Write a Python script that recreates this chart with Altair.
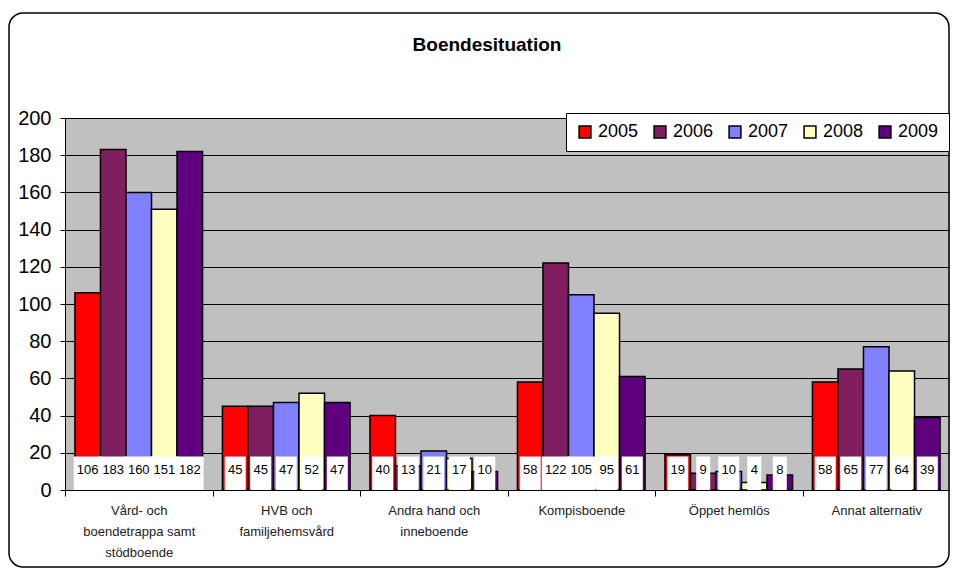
import altair as alt
import pandas as pd

categories = ["Vård- och|boendetrappa samt|stödboende", "HVB och|familjehemsvård",
              "Andra hand och|inneboende", "Kompisboende", "Öppet hemlös", "Annat alternativ"]
years = ["2005", "2006", "2007", "2008", "2009"]
v2005 = [106, 45, 40, 58, 19, 58]
v2006 = [183, 45, 13, 122, 9, 65]
v2007 = [160, 47, 21, 105, 10, 77]
v2008 = [151, 52, 17, 95, 4, 64]
v2009 = [182, 47, 10, 61, 8, 39]
colors = ["#FF0000", "#7F1F5F", "#8080FF", "#FFFFC0", "#5F007F"]
title_text = "Boendesituation"
y_ticks = [0, 20, 40, 60, 80, 100, 120, 140, 160, 180, 200]

series = [v2005, v2006, v2007, v2008, v2009]
rows = []
for yr, vals in zip(years, series):
    for c, v in zip(categories, vals):
        rows.append({"cat": c, "year": yr, "value": v, "boxw": 7 * len(str(v)) + 7})
df = pd.DataFrame(rows)

W, H = 885, 372

x = alt.X("cat:N", sort=categories,
          scale=alt.Scale(paddingInner=0, paddingOuter=0),
          axis=alt.Axis(title=None, labelExpr="split(datum.label, '|')", labelAngle=0,
                        tickBand="extent", tickSize=6, labelPadding=8, labelFontSize=13,
                        labelLineHeight=21, labelColor="#222222", domainColor="black",
                        tickColor="black", labelFont="Liberation Sans", grid=False,
                        labelLimit=0, labelOverlap=False, labelBound=False))
xo = alt.XOffset("year:N", sort=years, scale=alt.Scale(paddingInner=0, paddingOuter=0.39))

yaxis = alt.Axis(title=None, values=y_ticks, tickCount=len(y_ticks) + 1, labelFontSize=20,
                 tickSize=5, labelPadding=9, gridColor="black", grid=True,
                 domainColor="black", tickColor="black", labelColor="black",
                 labelFont="Liberation Sans", labelOverlap=False)

base = alt.Chart(df)

bars = base.mark_bar(stroke="black", strokeWidth=1.5).encode(
    x=x, xOffset=xo,
    y=alt.Y("value:Q", scale=alt.Scale(domain=[0, 200]), axis=yaxis),
    color=alt.Color("year:N", scale=alt.Scale(domain=years, range=colors),
                    legend=alt.Legend(title=None, orient="none", legendX=501, legendY=-5,
                                      direction="horizontal", columns=5, symbolType="square",
                                      symbolSize=140, symbolStrokeColor="black",
                                      symbolStrokeWidth=1.5, labelFontSize=18,
                                      labelFont="Liberation Sans", labelColor="black",
                                      columnPadding=12, labelOffset=4, padding=10,
                                      fillColor="white", strokeColor="black")),
)

boxes = base.mark_rule(color="white", strokeCap="butt").encode(
    x=x, xOffset=xo,
    y=alt.Y(datum=0, axis=yaxis), y2=alt.datum(18),
    strokeWidth=alt.StrokeWidth("boxw:Q", scale=None, legend=None),
)

labels = base.mark_text(fontSize=13, font="Liberation Sans", color="black",
                        baseline="middle").encode(
    x=x, xOffset=xo, y=alt.Y(datum=10.5, axis=yaxis), text="value:Q",
)

tdf = pd.DataFrame({"t": [title_text]})
title = alt.Chart(tdf).mark_text(fontSize=19, fontWeight="bold", font="Liberation Sans",
                                 color="black", baseline="middle").encode(
    x=alt.value(422), y=alt.value(-73), text="t:N")

frame = alt.Chart(tdf).mark_rect(cornerRadius=14, fillOpacity=0, stroke="black",
                                 strokeWidth=1.5).encode(
    x=alt.value(-56), x2=alt.value(884), y=alt.value(-105), y2=alt.value(449))

chart = alt.layer(bars, boxes, labels, title, frame).properties(
    width=W, height=H,
    autosize=alt.AutoSizeParams(type="none"),
    padding={"left": 57, "top": 110, "right": 0, "bottom": 78},
    background="white",
).configure_view(fill="#C0C0C0", stroke="#808080").configure_axisY(labelOverlap=False)

chart.save("out.html", embed_options={"renderer": "svg", "actions": False})
